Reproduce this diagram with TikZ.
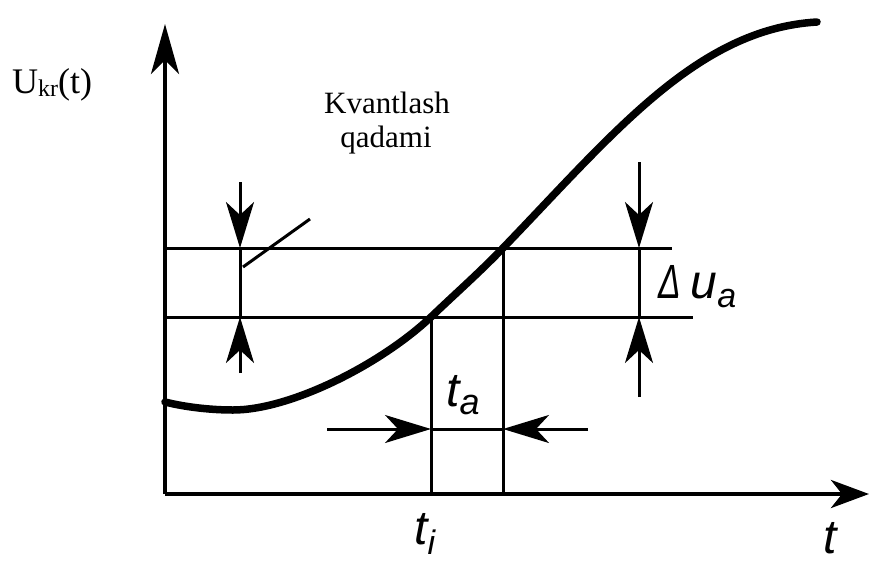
\documentclass[tikz,border=0pt]{standalone}
\usepackage{fontspec}
\setmainfont{Liberation Serif}
\newfontfamily\gfont{Liberation Sans}
\usetikzlibrary{arrows.meta}
\begin{document}
\begin{tikzpicture}[x=1pt,y=-1pt,
  ax/.style={line width=4.5pt},
  thinline/.style={line width=3pt},
  tipA/.style={-{Stealth[length=46pt,width=28pt,inset=13pt]}},
  curve/.style={line width=7.5pt,line cap=round},
  serif/.style={inner sep=0pt,anchor=base},
  glab/.style={inner sep=0pt,anchor=base west,font=\gfont\itshape\fontsize{48}{48}\selectfont},
  ]
\useasboundingbox (0,0) rectangle (870,563);

% axes
\coordinate (O) at (165,494);
\coordinate (Ytop) at (165,24);
\coordinate (Xend) at (869,494);
\draw[ax,-{Stealth[length=50pt,width=28pt,inset=14pt]}] (O) -- (Ytop);
\draw[ax,-{Stealth[length=38pt,width=28pt,inset=11pt]}] (O) -- (Xend);

% quantisation levels
\coordinate (L1a) at (165,248); \coordinate (L1b) at (672,248);
\coordinate (L2a) at (165,317); \coordinate (L2b) at (693,317);
\draw[thinline] (L1a) -- (L1b);
\draw[thinline] (L2a) -- (L2b);

% vertical drop lines
\coordinate (P1) at (431,317); \coordinate (P1b) at (431,494);
\coordinate (P2) at (503,248); \coordinate (P2b) at (503,494);
\draw[thinline] (P1) -- (P1b);
\draw[thinline] (P2) -- (P2b);

% left dimension arrows
\coordinate (LA) at (240,182); \coordinate (LAt) at (240,248);
\coordinate (LB) at (240,373); \coordinate (LBt) at (240,317);
\draw[thinline] (LAt) -- (LBt);
\draw[thinline,tipA] (LA) -- (LAt);
\draw[thinline,tipA] (LB) -- (LBt);
% leader
\coordinate (LD1) at (243,267); \coordinate (LD2) at (310,219);
\draw[thinline] (LD1) -- (LD2);

% right dimension arrows
\coordinate (RA) at (639,162); \coordinate (RAt) at (639,248);
\coordinate (RB) at (639,397); \coordinate (RBt) at (639,317);
\draw[thinline] (RAt) -- (RBt);
\draw[thinline,tipA] (RA) -- (RAt);
\draw[thinline,tipA] (RB) -- (RBt);

% t_a arrows
\coordinate (TA) at (327,429); \coordinate (TAt) at (431,429);
\coordinate (TB) at (588,429); \coordinate (TBt) at (503,429);
\draw[thinline] (TAt) -- (TBt);
\draw[thinline,tipA] (TA) -- (TAt);
\draw[thinline,tipA] (TB) -- (TBt);

% signal curve
\coordinate (C0) at (165,402);
\coordinate (CM) at (233,410);
\coordinate (CE) at (817,22);
\draw[curve] (C0) .. controls (185,407) and (210,410) .. (CM)
  .. controls (290,410) and (380,365) .. (P1)
  .. controls (455,294) and (480,272) .. (P2)
  .. controls (613,134) and (697,29) .. (CE);

% texts
\node[serif,anchor=base west,font=\fontsize{36}{36}\selectfont] (U) at (12,93) {U\raisebox{-3pt}{\fontsize{24}{24}\selectfont kr}(t)};
\node[serif,font=\fontsize{31}{31}\selectfont] (K1) at (387,113) {Kvantlash};
\node[serif,font=\fontsize{31}{31}\selectfont] (K2) at (386,147) {qadami};

\node[glab] (ta) at (446,406) {t\raisebox{-8pt}{\fontsize{36}{36}\selectfont a}};
\node[glab] (ti) at (414,544) {t\raisebox{-10pt}{\fontsize{34}{34}\selectfont i}};
\node[glab] (tt) at (823,553) {t};
\node[glab] (du) at (658,298) {\scalebox{0.7}[1]{Δ}\hspace{10pt}u\raisebox{-9pt}{\fontsize{34}{34}\selectfont a}};
\end{tikzpicture}
\end{document}
